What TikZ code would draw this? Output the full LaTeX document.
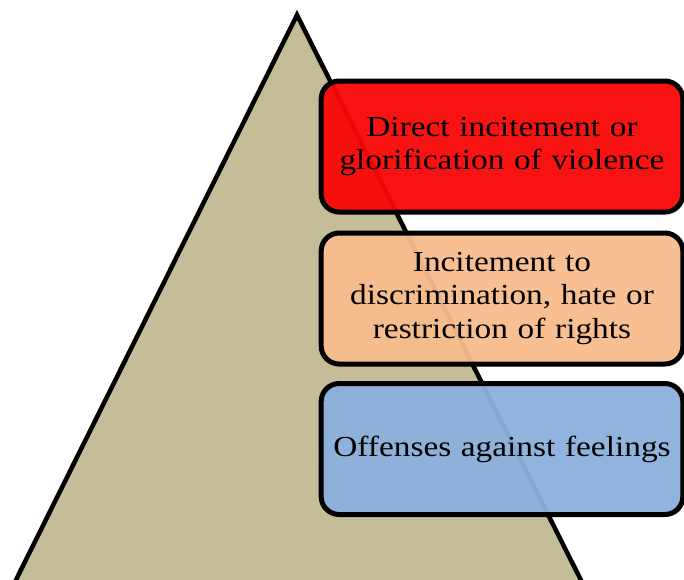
\documentclass[tikz,border=0pt]{standalone}
\usepackage{fontspec}
\setmainfont{Liberation Serif}[FakeStretch=1.15]
\usetikzlibrary{shadows}
\definecolor{tan}{HTML}{C4BD97}
\definecolor{redbox}{HTML}{FF0000}
\definecolor{orangebox}{HTML}{FFC08F}
\definecolor{bluebox}{HTML}{8DB3E2}
\tikzset{
  levelbox/.style={draw=black, line width=5pt, rounded corners=18pt,
    minimum width=359pt, minimum height=131pt, text width=355pt, align=center,
    fill opacity=0.9, text opacity=1, font=\fontsize{29}{33.5}\selectfont,
    drop shadow={shadow xshift=2pt, shadow yshift=-2pt, opacity=0.5, fill=gray}},
}
\begin{document}
\begin{tikzpicture}[x=1pt,y=-1pt]
\useasboundingbox (0,0) rectangle (684,579);
\clip (0,0) rectangle (684,579);
\coordinate (apex) at (297,15);
\coordinate (bl) at (-4,620);
\coordinate (br) at (601,620);
\draw[fill=tan, line width=4.5pt, line join=miter] (bl) -- (apex) -- (br) -- cycle;
\node[levelbox, fill=redbox] (r) at (502,146.5) {Direct incitement or\\glorification of violence};
\node[levelbox, fill=orangebox] (o) at (502,298.5) {Incitement to\\discrimination, hate or\\restriction of rights};
\node[levelbox, fill=bluebox] (b) at (502,449) {Offenses against feelings};
\end{tikzpicture}
\end{document}
